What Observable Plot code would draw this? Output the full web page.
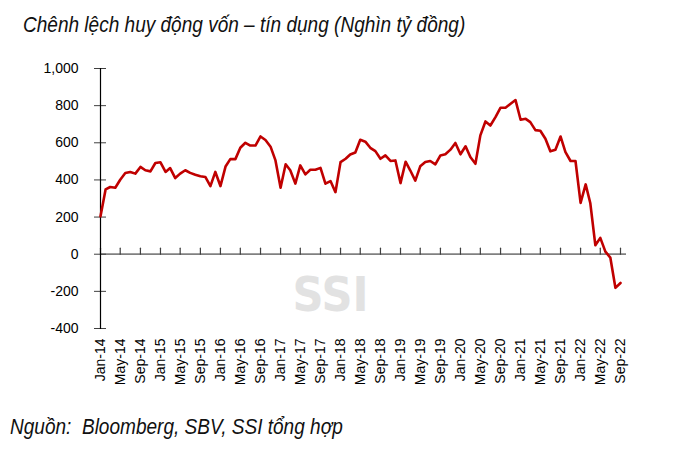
<!DOCTYPE html>
<html>
<head>
<meta charset="utf-8">
<script src="https://cdn.jsdelivr.net/npm/d3@7"></script>
<script src="https://cdn.jsdelivr.net/npm/@observablehq/plot@0.6"></script>
<style>
  body { margin: 0; background: #fff; }
  #wrap { width: 677px; height: 459px; overflow: hidden; }
  .t { font-family: "Liberation Sans", Arial, sans-serif; font-style: italic; font-size: 22px; color: #111; white-space: nowrap; }
  .t span { display: inline-block; transform: scaleX(0.865); transform-origin: 0 0; }
  #title { height: 46px; padding-left: 23px; line-height: 50px; }
  #cap { padding-left: 10px; line-height: 54px; }
  svg { display: block; }
</style>
</head>
<body>
<div id="wrap">
  <div class="t" id="title"><span>Chênh lệch huy động vốn – tín dụng (Nghìn tỷ đồng)</span></div>
  <div id="chart"></div>
  <div class="t" id="cap"><span>Nguồn:&nbsp; Bloomberg, SBV, SSI tổng hợp</span></div>
</div>
<script>
// First month of the series
const startMonth = "2014-01";
// Monthly gap between deposits and credit (thousand billion VND), Jan-14 .. Sep-22
const values = [
  204, 349, 362, 358, 401, 437, 443, 434, 470, 452, 446, 491,
  495, 443, 464, 410, 434, 452, 438, 428, 420, 416, 367, 443,
  367, 472, 512, 512, 573, 600, 585, 585, 634, 615, 579, 505,
  358, 484, 452, 380, 478, 430, 455, 455, 465, 380, 394, 334,
  496, 514, 537, 548, 616, 606, 573, 555, 514, 532, 502, 505,
  383, 498, 452, 396, 473, 496, 502, 484, 532, 538, 563, 599,
  538, 581, 523, 487, 640, 715, 693, 738, 789, 789, 810, 830,
  724, 729, 711, 668, 665, 622, 554, 563, 634, 550, 502, 502,
  276, 376, 276, 48, 88, 14, -18, -181, -155
];
const yTicks = [-400, -200, 0, 200, 400, 600, 800, 1000];
const xTickLabels = [
  "Jan-14","May-14","Sep-14","Jan-15","May-15","Sep-15","Jan-16","May-16","Sep-16",
  "Jan-17","May-17","Sep-17","Jan-18","May-18","Sep-18","Jan-19","May-19","Sep-19",
  "Jan-20","May-20","Sep-20","Jan-21","May-21","Sep-21","Jan-22","May-22","Sep-22"
];
const watermark = "SSI";

const parseStart = d3.utcParse("%Y-%m");
const parseTick = d3.utcParse("%b-%y");
const fmtTick = d3.utcFormat("%b-%y");
const start = parseStart(startMonth);
const data = values.map((v, i) => ({date: d3.utcMonth.offset(start, i), value: v}));
const xTicks = xTickLabels.map(parseTick);

const tickShape = { draw(context, l) { context.moveTo(0, 0); context.lineTo(0, -l); } };

const chart = Plot.plot({
  width: 677,
  height: 354,
  marginLeft: 100,
  marginRight: 57,
  marginTop: 22,
  marginBottom: 72,
  style: { fontFamily: "'Liberation Sans', Arial, sans-serif", fontSize: "14px", color: "#000", background: "#fff", overflow: "visible" },
  x: { type: "utc", domain: [xTicks[0], xTicks[xTicks.length - 1]], label: null },
  y: { domain: [-400, 1000], label: null },
  marks: [
    Plot.text([watermark], { frameAnchor: "bottom", dx: -30, dy: -18, lineAnchor: "bottom", fill: "#e2e2e2", fontSize: 48, fontWeight: "bold", fontFamily: "'DejaVu Sans Condensed', 'DejaVu Sans', sans-serif" }),
    Plot.ruleY([0], { stroke: "#808080", strokeWidth: 1.8, insetRight: -6 }),
    Plot.vector(xTicks, { x: d => d, y: () => 0, length: 6, rotate: 0, anchor: "start", shape: tickShape, stroke: "#404040", strokeWidth: 1.2 }),
    Plot.axisY({ ticks: yTicks, tickSize: 12, dx: 6, tickFormat: () => "", stroke: "#404040", label: null }),
    Plot.axisY({ ticks: yTicks, tickSize: 0, tickPadding: 22, tickFormat: d => d.toLocaleString("en-US"), fill: "#000", label: null }),
    Plot.frame({ anchor: "left", stroke: "#000", strokeWidth: 1.2 }),
    Plot.axisX({ ticks: xTicks, tickSize: 0, tickPadding: 10, tickRotate: -90, tickFormat: fmtTick, fill: "#000", label: null }),
    Plot.line(data, { x: "date", y: "value", stroke: "#c00000", strokeWidth: 2.6, strokeLinejoin: "round" })
  ]
});
document.getElementById("chart").appendChild(chart);
</script>
</body>
</html>
